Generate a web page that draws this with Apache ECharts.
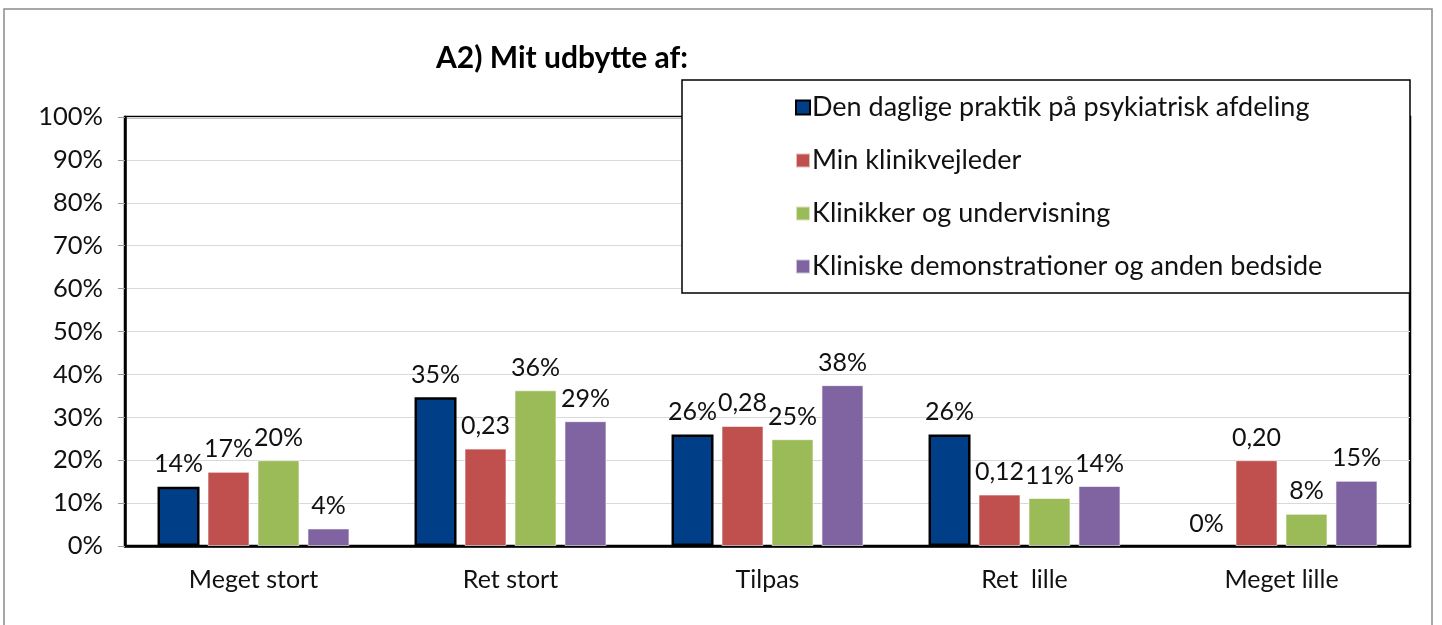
<!DOCTYPE html>
<html>
<head>
<meta charset="utf-8">
<script src="https://cdn.jsdelivr.net/npm/echarts@6/dist/echarts.min.js"></script>
<style>
html,body{margin:0;padding:0;background:#fff;}
#c{width:1442px;height:625px;}
</style>
</head>
<body>
<div id="c"></div>
<script>
const categories = ['Meget stort', 'Ret stort', 'Tilpas', 'Ret  lille', 'Meget lille'];
const seriesNames = [
  'Den daglige praktik på psykiatrisk afdeling',
  'Min klinikvejleder',
  'Klinikker og undervisning',
  'Kliniske demonstrationer og anden bedside'
];
const dagligPraktik = [13.8, 34.7, 26.0, 26.0, 0];
const klinikvejleder = [17.3, 22.7, 28.0, 12.0, 20.0];
const klinikker = [20.0, 36.3, 24.9, 11.2, 7.5];
const demonstrationer = [4.1, 29.1, 37.5, 14.0, 15.2];
// label display kind per point: '%' = percent, 'dec' = decimal fraction
const kindDaglig = ['%', '%', '%', '%', '%'];
const kindVejleder = ['%', 'dec', 'dec', 'dec', 'dec'];
const kindKlinikker = ['%', '%', '%', '%', '%'];
const kindDemo = ['%', '%', '%', '%', '%'];
const yTicks = [0, 10, 20, 30, 40, 50, 60, 70, 80, 90, 100];

const FONT = 'Lato';
const colors = ['#003F87', '#C0504D', '#9BBB59', '#8064A2'];

function fmt(kinds) {
  return function (p) {
    const v = p.value;
    if (kinds[p.dataIndex] === 'dec') return (v / 100).toFixed(2).replace('.', ',');
    return Math.round(v) + '%';
  };
}

function mk(i, data, kinds) {
  const isBlue = i === 0;
  return {
    name: seriesNames[i],
    type: 'bar',
    data: data.map(function (v) {
      return (isBlue && v === 0) ? {value: v, itemStyle: {borderWidth: 0}} : v;
    }),
    barWidth: 42,
    barGap: '19%',
    itemStyle: {
      color: colors[i],
      borderColor: isBlue ? '#000' : 'rgba(255,255,255,0.6)',
      borderWidth: isBlue ? 2.5 : 1
    },
    label: {
      show: true,
      position: 'top',
      distance: 10,
      formatter: fmt(kinds),
      fontFamily: FONT,
      fontSize: 25,
      color: '#111'
    },
    z: 3
  };
}

const chart = echarts.init(document.getElementById('c'), null, {renderer: 'canvas'});
chart.setOption({
  animation: false,
  backgroundColor: '#fff',
  title: {
    text: 'A2) Mit udbytte af:',
    left: 431,
    top: 38,
    textStyle: {fontFamily: FONT, fontSize: 30, fontWeight: 'bold', color: '#000'}
  },
  grid: {
    left: 125, right: 32, top: 117, bottom: 79,
    show: true, borderColor: '#000', borderWidth: 2.5, backgroundColor: 'transparent'
  },
  legend: {
    orient: 'vertical',
    left: 790,
    top: 89,
    itemWidth: 14,
    itemHeight: 14,
    itemGap: 26,
    icon: 'rect',
    data: seriesNames,
    textStyle: {fontFamily: FONT, fontSize: 27, color: '#111', lineHeight: 27, padding: [0, 0, 0, -3]},
    z: 10
  },
  graphic: [
    {
      type: 'rect',
      z: 6,
      shape: {x: 682, y: 80, width: 728, height: 213},
      style: {fill: '#fff', stroke: '#000', lineWidth: 1.5}
    },
    {
      type: 'rect',
      z: 1,
      silent: true,
      shape: {x: 4, y: 9, width: 1428, height: 660},
      style: {fill: 'none', stroke: '#8a8a8a', lineWidth: 1.5}
    }
  ],
  xAxis: {
    type: 'category',
    data: categories,
    axisLine: {show: true, lineStyle: {color: '#000', width: 2.5}},
    axisTick: {show: false},
    axisLabel: {fontFamily: FONT, fontSize: 25, color: '#111', margin: 21},
    splitLine: {show: false}
  },
  yAxis: {
    type: 'value',
    min: yTicks[0],
    max: yTicks[yTicks.length - 1],
    interval: 10,
    axisLine: {show: true, lineStyle: {color: '#000', width: 2.5}},
    axisTick: {show: true, length: 7, lineStyle: {color: '#999'}},
    axisLabel: {fontFamily: FONT, fontSize: 25.5, color: '#111', margin: 22, formatter: '{value}%'},
    splitLine: {show: true, lineStyle: {color: '#d9d9d9', width: 1.2}}
  },
  series: [
    mk(0, dagligPraktik, kindDaglig),
    mk(1, klinikvejleder, kindVejleder),
    mk(2, klinikker, kindKlinikker),
    mk(3, demonstrationer, kindDemo)
  ]
});
</script>
</body>
</html>
